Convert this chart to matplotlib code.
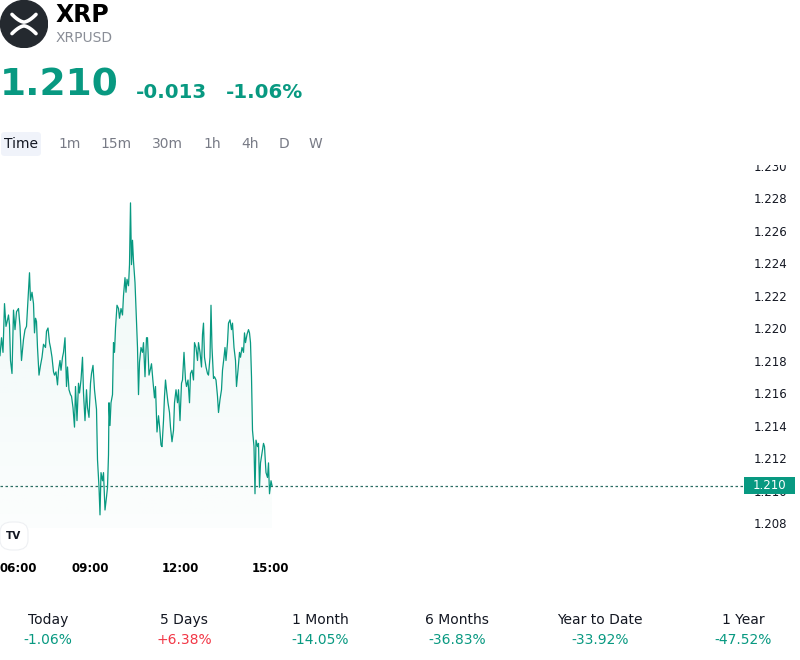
import numpy as np
import matplotlib
matplotlib.use("Agg")
import matplotlib.pyplot as plt
from matplotlib.patches import Rectangle, FancyBboxPatch, Circle, Polygon
import matplotlib.transforms as mtransforms

# minutes after 06:00 and XRPUSD price
minutes = [0, 3, 6, 9, 12, 15, 17, 19, 21, 24, 27, 30, 33, 37, 40, 43, 47, 50, 53, 56,
           59, 61, 64, 67, 69, 71, 73, 75, 78, 81, 84, 87, 91, 93, 96, 99, 101, 104, 107, 109,
           112, 115, 117, 120, 122, 125, 127, 130, 133, 135, 138, 141, 143, 146, 149, 151, 154, 157, 159, 162,
           165, 167, 170, 173, 175, 178, 181, 183, 186, 189, 191, 193, 195, 198, 200, 202, 205, 207, 210, 213,
           215, 217, 218, 220, 222, 225, 227, 229, 231, 234, 237, 239, 242, 245, 247, 250, 252, 254, 257, 259,
           261, 263, 265, 267, 270, 273, 275, 277, 279, 282, 285, 287, 290, 293, 295, 298, 301, 303, 306, 309,
           311, 314, 317, 319, 322, 324, 327, 329, 331, 333, 336, 339, 341, 344, 347, 349, 352, 355, 357, 360,
           363, 365, 368, 371, 373, 376, 379, 381, 384, 387, 389, 392, 395, 397, 400, 403, 405, 407, 409, 412,
           415, 417, 420, 422, 424, 427, 429, 432, 435, 437, 440, 443, 445, 448, 450, 452, 455, 457, 460, 463,
           465, 468, 471, 473, 476, 479, 481, 484, 487, 489, 491, 494, 497, 499, 501, 503, 505, 508, 510, 512,
           515, 517, 519, 521, 524, 527, 529, 532, 535, 537, 539, 542, 544]
prices = [1.2183, 1.2194, 1.2185, 1.2215, 1.2201, 1.2205, 1.2208, 1.2202, 1.2180, 1.2172,
          1.2211, 1.2199, 1.2210, 1.2212, 1.2201, 1.2180, 1.2193, 1.2199, 1.2201, 1.2218,
          1.2234, 1.2217, 1.2222, 1.2215, 1.2197, 1.2206, 1.2204, 1.2188, 1.2171, 1.2177,
          1.2182, 1.2190, 1.2188, 1.2198, 1.2200, 1.2191, 1.2188, 1.2182, 1.2173, 1.2171,
          1.2173, 1.2165, 1.2174, 1.2180, 1.2174, 1.2182, 1.2185, 1.2194, 1.2164, 1.2176,
          1.2162, 1.2159, 1.2158, 1.2151, 1.2139, 1.2164, 1.2143, 1.2166, 1.2160, 1.2168,
          1.2182, 1.2160, 1.2143, 1.2162, 1.2151, 1.2145, 1.2166, 1.2172, 1.2177, 1.2162,
          1.2156, 1.2150, 1.2119, 1.2102, 1.2085, 1.2111, 1.2106, 1.2111, 1.2088, 1.2096,
          1.2102, 1.2122, 1.2154, 1.2140, 1.2154, 1.2159, 1.2191, 1.2185, 1.2200, 1.2214,
          1.2212, 1.2206, 1.2212, 1.2208, 1.2220, 1.2231, 1.2222, 1.2230, 1.2226, 1.2239,
          1.2277, 1.2239, 1.2254, 1.2241, 1.2228, 1.2204, 1.2188, 1.2159, 1.2179, 1.2188,
          1.2185, 1.2191, 1.2170, 1.2194, 1.2194, 1.2171, 1.2175, 1.2178, 1.2167, 1.2157,
          1.2164, 1.2136, 1.2146, 1.2140, 1.2128, 1.2127, 1.2143, 1.2158, 1.2168, 1.2162,
          1.2154, 1.2148, 1.2139, 1.2130, 1.2137, 1.2154, 1.2162, 1.2154, 1.2162, 1.2143,
          1.2166, 1.2168, 1.2185, 1.2168, 1.2164, 1.2168, 1.2154, 1.2172, 1.2174, 1.2168,
          1.2191, 1.2188, 1.2180, 1.2191, 1.2185, 1.2176, 1.2196, 1.2203, 1.2182, 1.2176,
          1.2172, 1.2171, 1.2182, 1.2214, 1.2188, 1.2169, 1.2170, 1.2168, 1.2158, 1.2148,
          1.2156, 1.2162, 1.2174, 1.2182, 1.2188, 1.2180, 1.2191, 1.2203, 1.2205, 1.2199,
          1.2203, 1.2188, 1.2180, 1.2164, 1.2174, 1.2185, 1.2182, 1.2188, 1.2185, 1.2197,
          1.2191, 1.2196, 1.2199, 1.2197, 1.2191, 1.2170, 1.2137, 1.2127, 1.2098, 1.2131,
          1.2127, 1.2129, 1.2102, 1.2117, 1.2123, 1.2129, 1.2127, 1.2111, 1.2108, 1.2117,
          1.2098, 1.2106, 1.2103]

time_ticks = [0, 180, 360, 540]
time_labels = ["06:00", "09:00", "12:00", "15:00"]
price_ticks = [1.208, 1.210, 1.212, 1.214, 1.216, 1.218, 1.220, 1.222, 1.224, 1.226, 1.228, 1.230]

intervals = ["Time", "1m", "15m", "30m", "1h", "4h", "D", "W"]
periods = ["Today", "5 Days", "1 Month", "6 Months", "Year to Date", "1 Year"]
period_changes = [-1.06, 6.38, -14.05, -36.83, -33.92, -47.52]

last_price = 1.210
change = -0.013
change_pct = -1.06

GREEN = "#089981"
RED = "#f23645"
DARK = "#131722"
GREY = "#787b86"

W, H = 800, 660
fig = plt.figure(figsize=(8, 6.6), dpi=100)
fig.patch.set_facecolor("white")


def fx(px):
    return px / W


def fy(py):
    return 1 - py / H


# ---- header ----
ax_logo = fig.add_axes([0, fy(48), fx(48), 48 / H])
ax_logo.set_xlim(-1, 1)
ax_logo.set_ylim(-1, 1)
ax_logo.axis("off")
ax_logo.add_patch(Circle((0, 0), 0.98, color="#24292f"))
t = np.linspace(-1, 1, 40)
xs = 0.5 * t
ax_logo.plot(xs, 0.08 + 0.32 * np.abs(t) ** 1.6, color="white", lw=2.6, solid_capstyle="round")
ax_logo.plot(xs, -0.08 - 0.32 * np.abs(t) ** 1.6, color="white", lw=2.6, solid_capstyle="round")

fig.text(fx(56), fy(15), "XRP", fontsize=17, fontweight="bold", color="black", va="center")
fig.text(fx(56), fy(38), "XRPUSD", fontsize=10, color="#8a8e97", va="center")

fig.text(fx(0), fy(86), f"{last_price:.3f}", fontsize=27, fontweight="bold", color=GREEN, va="center")
fig.text(fx(136), fy(92), f"{change:.3f}", fontsize=14.3, fontweight="bold", color=GREEN, va="center")
fig.text(fx(226), fy(92), f"{change_pct:.2f}%", fontsize=14.3, fontweight="bold", color=GREEN, va="center")

# interval buttons
fig.patches.append(FancyBboxPatch((fx(1), fy(156)), fx(40), 24 / H,
                                  boxstyle="round,pad=0,rounding_size=0.005",
                                  transform=fig.transFigure, facecolor="#f0f3fa",
                                  edgecolor="none"))
interval_x = [4, 58, 100, 152, 203, 241, 279, 309]
for lab, px in zip(intervals, interval_x):
    fig.text(fx(px), fy(144), lab, fontsize=10, va="center",
             color=DARK if lab == "Time" else GREY)

# ---- chart ----
top, bottom, right = 160, 528, 745
ax = fig.add_axes([0, fy(bottom), fx(right), (bottom - top) / H])
ymax = 1.208 + (523 - top) / 16250
ymin = 1.208 - (bottom - 523) / 16250
ax.set_xlim(0, 2 * right)
ax.set_ylim(ymin, ymax)

ax.plot(minutes, prices, color=GREEN, lw=0.9, zorder=3)

# gradient fill under the line
verts = [(minutes[0], ymin)] + list(zip(minutes, prices)) + [(minutes[-1], ymin)]
poly = Polygon(verts, closed=True, facecolor="none", edgecolor="none")
ax.add_patch(poly)
grad = np.linspace(0, 1, 256).reshape(-1, 1)
rgba = np.zeros((256, 1, 4))
rgba[..., 0], rgba[..., 1], rgba[..., 2] = 0x08 / 255, 0x99 / 255, 0x81 / 255
rgba[..., 3] = 0.07 * (0.25 + 0.75 * grad)
img = ax.imshow(rgba, extent=[minutes[0], minutes[-1], ymin, max(prices)],
                origin="lower", aspect="auto", zorder=1)
img.set_clip_path(poly)

ax.axhline(prices[-1], color="#2c6e64", lw=0.9, ls=(0, (2, 2)), zorder=2)

for s in ax.spines.values():
    s.set_visible(False)
ax.set_xticks([])
ax.yaxis.tick_right()
ax.set_yticks(price_ticks)
ax.set_yticklabels([f"{v:.3f}" for v in price_ticks])
ax.tick_params(axis="y", length=0, pad=6.5, labelsize=8.5, labelcolor=DARK)

# time labels under the chart
trans = mtransforms.blended_transform_factory(ax.transData, fig.transFigure)
for m, lab in zip(time_ticks, time_labels):
    ax.text(m, fy(569), lab, transform=trans, fontsize=8.5, fontweight="bold",
            color="black", va="center", ha="left" if m == 0 else "center")

# hide the clipped top of the highest label
fig.patches.append(Rectangle((fx(740), fy(165)), fx(60), 15 / H, transform=fig.transFigure,
                             facecolor="white", edgecolor="none", zorder=5))

# last price tag
fig.patches.append(Rectangle((fx(744), fy(494)), fx(51), 17 / H, transform=fig.transFigure,
                             facecolor=GREEN, edgecolor="none", zorder=5))
fig.text(fx(769.5), fy(485.5), f"{last_price:.3f}", fontsize=8.5, color="white",
         ha="center", va="center", zorder=6)

# TradingView badge
fig.patches.append(FancyBboxPatch((fx(0), fy(550)), fx(28), 28 / H,
                                  boxstyle="round,pad=0,rounding_size=0.015",
                                  transform=fig.transFigure, facecolor="white",
                                  edgecolor="#eef0f3", lw=0.8, zorder=5))
fig.text(fx(13), fy(536), "TV", fontsize=7.5, fontweight="bold", color=DARK,
         ha="center", va="center", zorder=6)

# ---- performance row ----
period_x = [48, 184, 320, 457, 600, 743]
for px, lab, val in zip(period_x, periods, period_changes):
    fig.text(fx(px), fy(620), lab, fontsize=10, color=DARK, ha="center", va="center")
    fig.text(fx(px), fy(640), f"{val:+.2f}%", fontsize=10,
             color=GREEN if val < 0 else RED, ha="center", va="center")

fig.savefig("out.png", dpi=100, facecolor="white")
